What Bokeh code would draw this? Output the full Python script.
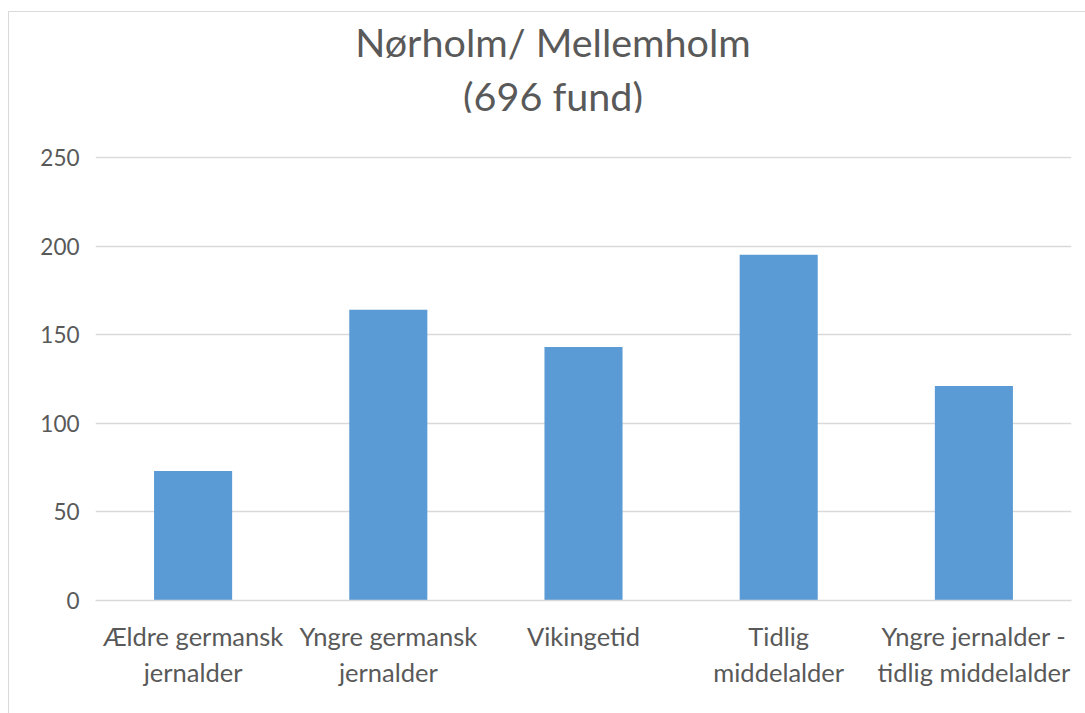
from bokeh.plotting import figure
from bokeh.models import Range1d, FactorRange, ColumnDataSource, Div
from bokeh.layouts import column
from bokeh.embed import file_html
from bokeh.resources import INLINE

categories = ["Ældre germansk\njernalder", "Yngre germansk\njernalder", "Vikingetid",
              "Tidlig\nmiddelalder", "Yngre jernalder -\ntidlig middelalder"]
values = [73, 164, 143, 195, 121]
y_ticks = [0, 50, 100, 150, 200, 250]
title_lines = ["Nørholm/ Mellemholm", "(696 fund)"]

FONT = "Lato"
GREY = "#595959"

src = ColumnDataSource(dict(cat=categories, val=values))

p = figure(x_range=FactorRange(*categories, range_padding=0), y_range=Range1d(0, 250.5),
           width=1076, height=601, output_backend="svg", toolbar_location=None,
           min_border_left=86, min_border_right=14, min_border_top=44, min_border_bottom=113)
p.outline_line_color = None
p.background_fill_color = "white"
p.border_fill_color = "white"

p.vbar(x="cat", top="val", width=0.4, source=src, fill_color="#5b9bd5", line_color=None)

p.xgrid.grid_line_color = None
p.ygrid.grid_line_color = "#d9d9d9"
p.ygrid.grid_line_width = 1.5
p.yaxis.ticker = y_ticks
p.yaxis.axis_line_color = None
p.yaxis.major_tick_line_color = None
p.yaxis.minor_tick_line_color = None
p.yaxis.major_label_text_font = FONT
p.yaxis.major_label_text_font_size = "22.5px"
p.yaxis.major_label_text_color = GREY
p.yaxis.major_label_text_align = "left"
p.yaxis.major_label_standoff = 10

p.xaxis.axis_line_color = "#d9d9d9"
p.xaxis.axis_line_width = 1.5
p.xaxis.major_tick_line_color = None
p.xaxis.minor_tick_line_color = None
p.xaxis.major_label_text_font = FONT
p.xaxis.major_label_text_font_size = "25.5px"
p.xaxis.major_label_text_color = GREY
p.xaxis.major_label_standoff = 14

title_html = (
    '<div style="box-sizing:border-box;width:1076px;height:100px;text-align:center;'
    'padding-left:12px;padding-top:3px;font-family:Lato;font-size:39.5px;line-height:54px;'
    'color:%s;">%s<br>%s</div>' % (GREY, title_lines[0], title_lines[1])
)
title = Div(text=title_html, width=1076, height=100, margin=(0, 0, 0, 0))

layout = column(title, p, spacing=0,
                styles={"border-left": "1px solid #d9d9d9", "border-top": "1px solid #d9d9d9",
                        "margin-top": "11px", "margin-left": "8px", "background-color": "white"})

open("out.html", "w").write(file_html(layout, INLINE))
